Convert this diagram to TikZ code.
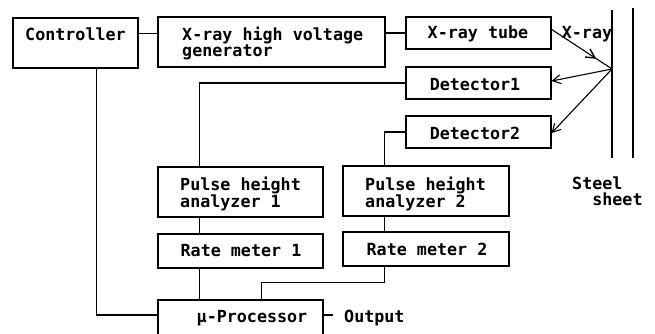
\documentclass[tikz,border=0pt]{standalone}
\usepackage{fontspec}
\setmonofont{DejaVu Sans Mono}
\usetikzlibrary{arrows.meta,calc}
\begin{document}
\begin{tikzpicture}[x=1pt,y=-1pt,
  box/.style={draw,line width=1.2pt,inner sep=0pt},
  txt/.style={inner sep=0pt,align=left,font=\ttfamily\bfseries\fontsize{16.7}{16}\selectfont},
  wire/.style={line width=1.1pt},
  arr/.style={line width=1.1pt,-{Straight Barb[length=8pt,width=9pt]}}]
\useasboundingbox (0,0) rectangle (655,333);
\clip (0,0) rectangle (655,333);
% boxes
\node[box,minimum width=125pt,minimum height=50pt] (ctrl) at (75.5,43) {};
\node[box,minimum width=227pt,minimum height=50pt] (hv) at (271.5,42) {};
\node[box,minimum width=145pt,minimum height=32pt] (tube) at (478.5,33) {};
\node[box,minimum width=145pt,minimum height=32pt] (det1) at (478.5,83) {};
\node[box,minimum width=145pt,minimum height=32pt] (det2) at (478.5,132) {};
\node[box,minimum width=165pt,minimum height=50pt] (pha1) at (240.5,192) {};
\node[box,minimum width=165pt,minimum height=34pt] (rm1) at (240.5,251) {};
\node[box,minimum width=165pt,minimum height=40pt] (up) at (240.5,320) {};
\node[box,minimum width=166pt,minimum height=50pt] (pha2) at (426,191) {};
\node[box,minimum width=166pt,minimum height=34pt] (rm2) at (426,249) {};
% texts
\node[txt,anchor=base west] (tctrl) at (25,40) {Controller};
\node[txt,anchor=north west] (thv) at (182,27) {X-ray high voltage\\generator};
\node[txt,anchor=base] (ttube) at (478,38.5) {X-ray tube};
\node[txt,anchor=base] (tdet1) at (475,90) {Detector1};
\node[txt,anchor=base] (tdet2) at (475,139) {Detector2};
\node[txt,anchor=north west] (tpha1) at (180,177) {Pulse height\\analyzer 1};
\node[txt,anchor=north west] (tpha2) at (365,177) {Pulse height\\analyzer 2};
\node[txt,anchor=base] (trm1) at (241,256) {Rate meter 1};
\node[txt,anchor=base] (trm2) at (427,255) {Rate meter 2};
\node[txt,anchor=base] (tup) at (252,322) {μ-Processor};
\node[txt,anchor=base west] (tout) at (344,322) {Output};
\node[txt,anchor=base] (txray) at (587,38) {X-ray};
\node[txt,anchor=north west] (tsteel) at (572,177) {Steel\\\ \ sheet};
% steel sheet
\coordinate (s1a) at (612,10);
\coordinate (s1b) at (612,158);
\coordinate (s2a) at (633,8);
\coordinate (s2b) at (633,158);
\coordinate (hit) at (612,69);
\coordinate (outend) at (333,315);
\coordinate (src) at (551,29);
\coordinate (beammid) at (595,58);
\draw[line width=1.3pt] (s1a) -- (s1b);
\draw[line width=1.3pt] (s2a) -- (s2b);
% connectors
\draw[wire] (ctrl.east |- tctrl) -- (hv.west |- tctrl);
\draw[wire] (hv.east |- tube.west) -- (tube.west);
\draw[wire] (det1.west) -| ([xshift=42pt]pha1.north west);
\draw[wire] ([xshift=42pt]pha1.south west) -- ([xshift=42pt]rm1.north west);
\draw[wire] ([xshift=42pt]rm1.south west) -- ([xshift=42pt]up.north west);
\draw[wire] (det2.west) -| ([xshift=42pt]pha2.north west);
\draw[wire] ([xshift=42pt]pha2.south west) -- ([xshift=42pt]rm2.north west);
\draw[wire] ([xshift=42pt]rm2.south west) -- ++(0,16) -| ([xshift=104pt]up.north west);
\draw[wire] ([xshift=84pt]ctrl.south west) |- ([yshift=5pt]up.west);
\draw[wire] ([yshift=5pt]up.east) -- (outend);
% x-ray paths
\draw[wire] (src) -- (hit);
\draw[line width=1.4pt] (beammid) -- +(-10,-1) (beammid) -- +(-5,-9);
\draw[arr] (hit) -- ([yshift=2pt]det1.east);
\draw[arr] (hit) -- ([yshift=-1pt]det2.east);
\end{tikzpicture}
\end{document}
